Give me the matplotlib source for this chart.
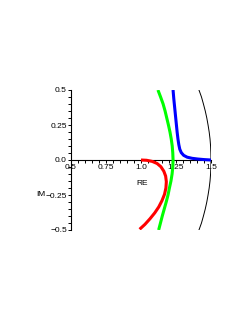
import matplotlib
matplotlib.use("Agg")
import matplotlib.pyplot as plt
from matplotlib.ticker import MultipleLocator, FixedLocator

plt.rcParams['font.family'] = ['Liberation Sans', 'DejaVu Sans']

# Curves (RE, IM)
black_re = [1.414, 1.432, 1.446, 1.459, 1.470, 1.479, 1.487, 1.493, 1.497, 1.499, 1.500,
            1.499, 1.497, 1.493, 1.487, 1.479, 1.470, 1.459, 1.446, 1.432, 1.414]
black_im = [0.50, 0.45, 0.40, 0.35, 0.30, 0.25, 0.20, 0.15, 0.10, 0.05, 0.00,
            -0.05, -0.10, -0.15, -0.20, -0.25, -0.30, -0.35, -0.40, -0.45, -0.50]

green_re = [1.121, 1.140, 1.158, 1.172, 1.184, 1.196, 1.207, 1.216, 1.223, 1.227, 1.229,
            1.227, 1.222, 1.214, 1.203, 1.193, 1.180, 1.166, 1.152, 1.139, 1.126]
green_im = [0.50, 0.45, 0.40, 0.35, 0.30, 0.25, 0.20, 0.15, 0.10, 0.05, 0.00,
            -0.05, -0.10, -0.15, -0.20, -0.25, -0.30, -0.35, -0.40, -0.45, -0.50]

blue_re = [1.229, 1.234, 1.240, 1.246, 1.252, 1.258, 1.264, 1.270, 1.277, 1.288,
           1.305, 1.330, 1.365, 1.405, 1.450, 1.500]
blue_im = [0.50, 0.44, 0.38, 0.32, 0.26, 0.20, 0.15, 0.11, 0.077, 0.052,
           0.033, 0.020, 0.012, 0.007, 0.003, 0.000]

red_re = [1.000, 1.040, 1.080, 1.115, 1.142, 1.163, 1.176, 1.181, 1.178, 1.168,
          1.150, 1.127, 1.098, 1.064, 1.028, 0.990]
red_im = [0.000, -0.002, -0.010, -0.025, -0.048, -0.080, -0.115, -0.155, -0.200, -0.245,
          -0.290, -0.335, -0.378, -0.420, -0.460, -0.495]

x_major = [0.5, 0.75, 1.0, 1.25, 1.5]
x_labels = ["0.5", "0.75", "1.0", "1.25", "1.5"]
y_major = [-0.5, -0.25, 0.0, 0.25, 0.5]
y_labels = ["\u22120.5", "\u22120.25", "0.0", "0.25", "0.5"]

fig = plt.figure(figsize=(2.46, 3.19), dpi=100)
ax = fig.add_axes([71/246, 1 - 230/319, 140/246, 140/319])

ax.plot(black_re, black_im, color='black', lw=0.7, zorder=3)
ax.plot(green_re, green_im, color='#00ff00', lw=2.2, zorder=4, solid_capstyle='butt')
ax.plot(blue_re, blue_im, color='#0000ff', lw=2.2, zorder=5, solid_capstyle='butt')
ax.plot(red_re, red_im, color='#ff0000', lw=2.2, zorder=6, solid_capstyle='butt')

ax.set_xlim(0.5, 1.5)
ax.set_ylim(-0.5, 0.5)
ax.set_facecolor('none')
fig.patch.set_facecolor('white')

for s in ['top', 'right']:
    ax.spines[s].set_visible(False)
ax.spines['bottom'].set_position(('data', 0.0))
ax.spines['left'].set_position(('data', 0.5))
ax.spines['bottom'].set_linewidth(0.8)
ax.spines['left'].set_linewidth(0.8)

ax.xaxis.set_major_locator(FixedLocator(x_major))
ax.yaxis.set_major_locator(FixedLocator(y_major))
ax.xaxis.set_minor_locator(MultipleLocator(0.05))
ax.yaxis.set_minor_locator(MultipleLocator(0.05))
ax.set_xticklabels(x_labels)
ax.set_yticklabels(y_labels)
ax.tick_params(which='major', direction='out', length=2.4, width=0.7, labelsize=6, pad=0.5)
ax.tick_params(which='minor', direction='out', length=2.2, width=0.7)

ax.text(1.007, -0.17, "RE", fontsize=6, ha='center', va='center')
ax.text(0.318, -0.25, "IM", fontsize=6, ha='right', va='center')

fig.savefig("out.png", dpi=100)
